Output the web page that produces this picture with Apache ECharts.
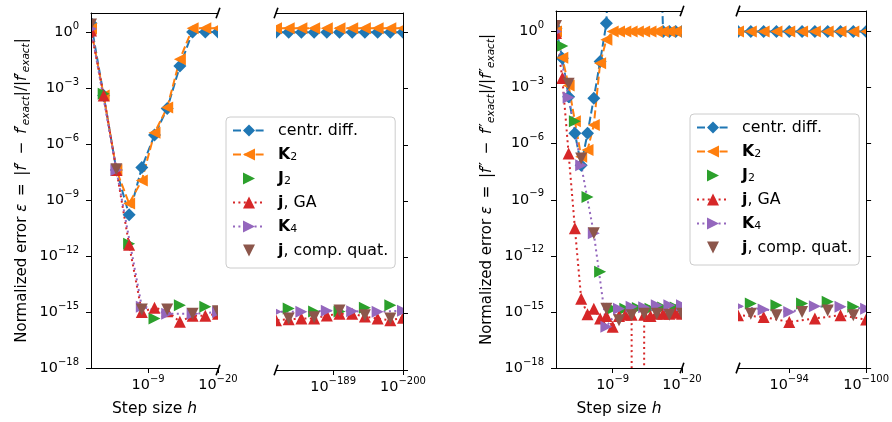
<!DOCTYPE html>
<html>
<head>
<meta charset="utf-8">
<script src="https://cdn.jsdelivr.net/npm/echarts@6.0.0/dist/echarts.min.js"></script>
<style>
  html, body { margin: 0; padding: 0; background: #fff; }
  #chart { width: 892px; height: 422px; }
</style>
</head>
<body>
<div id="chart"></div>
<script>
// x values are log10 of the step size h, y values are the normalized errors
// (an error of 0 falls off the bottom of the log axis, like matplotlib's clip)

// first derivative panel
const firstCentrDiff = [
  [0, 3], [-2, 4e-4], [-4, 4e-8], [-6, 1.6e-10], [-8, 5.5e-8], [-10, 3e-6],
  [-12, 8e-5], [-14, 1.5e-2], [-16, 1], [-18, 1], [-20, 1],
  [-180, 1], [-182, 1], [-184, 1], [-186, 1], [-188, 1], [-190, 1],
  [-192, 1], [-194, 1], [-196, 1], [-198, 1], [-200, 1],
];
const firstK2 = [
  [0, 1.5], [-2, 4e-4], [-4, 4e-8], [-6, 6.5e-10], [-8, 1.1e-8], [-10, 4e-6],
  [-12, 9e-5], [-14, 3.5e-2], [-16, 1.6], [-18, 1.6], [-20, 1.6],
  [-180, 1.6], [-182, 1.6], [-184, 1.6], [-186, 1.6], [-188, 1.6], [-190, 1.6],
  [-192, 1.6], [-194, 1.6], [-196, 1.6], [-198, 1.6], [-200, 1.6],
];
const firstJ2 = [
  [-2, 5e-4], [-6, 4.5e-12], [-10, 4.5e-16], [-14, 2.3e-15], [-18, 1.9e-15],
  [-182, 1.9e-15], [-186, 1.3e-15], [-190, 1.3e-15], [-194, 2.1e-15], [-198, 2.8e-15],
];
const firstGA = [
  [0, 1.2], [-2, 4e-4], [-4, 4e-8], [-6, 4e-12], [-8, 1e-15], [-10, 1.7e-15],
  [-12, 1.1e-15], [-14, 3e-16], [-16, 6.3e-16], [-18, 6.3e-16], [-20, 8e-16],
  [-180, 4.5e-16], [-182, 5e-16], [-184, 5.5e-16], [-186, 5.5e-16], [-188, 8e-16], [-190, 1e-15],
  [-192, 1e-15], [-194, 7e-16], [-196, 5.5e-16], [-198, 4.5e-16], [-200, 6e-16],
];
const firstK4 = [
  [0, 1.5], [-4, 4e-8], [-8, 1.9e-15], [-12, 8e-16], [-16, 8e-16], [-20, 1e-15],
  [-180, 1.25e-15], [-184, 1.25e-15], [-188, 1.45e-15], [-192, 1.35e-15], [-196, 1.25e-15], [-200, 1.45e-15],
];
const firstQuat = [
  [0, 2.5], [-4, 4.5e-8], [-8, 1.35e-15], [-12, 1.35e-15], [-16, 8e-16], [-20, 1.1e-15],
  [-182, 5.5e-16], [-186, 6.5e-16], [-190, 1.5e-15], [-194, 8.3e-16], [-198, 5.5e-16],
];

// second derivative panel
const secondCentrDiff = [
  [0, 1.5], [-1, 3.7e-2], [-2, 3.3e-4], [-3, 3.6e-6], [-4, 7e-8], [-5, 3.6e-6], [-6, 2.7e-4],
  [-7, 2.5e-2], [-8, 2.8], [-9, 1e10], [-10, 1e10], [-11, 1e10], [-12, 1e10], [-13, 1e10],
  [-14, 1e10], [-15, 1e10], [-16, 1e10], [-17, 1], [-18, 1], [-19, 1], [-20, 1],
  [-90, 1], [-91, 1], [-92, 1], [-93, 1], [-94, 1], [-95, 1],
  [-96, 1], [-97, 1], [-98, 1], [-99, 1], [-100, 1],
];
const secondK2 = [
  [0, 1], [-1, 4e-2], [-2, 1.3e-3], [-3, 1.6e-5], [-4, 2e-7], [-5, 4.6e-7], [-6, 1e-5],
  [-7, 2e-2], [-8, 0.37], [-9, 1], [-10, 1], [-11, 1], [-12, 1], [-13, 1],
  [-14, 1], [-15, 1], [-16, 1], [-17, 1], [-18, 1], [-19, 1], [-20, 1],
  [-90, 1], [-91, 1], [-92, 1], [-93, 1], [-94, 1], [-95, 1],
  [-96, 1], [-97, 1], [-98, 1], [-99, 1], [-100, 1],
];
const secondJ2 = [
  [-1, 0.17], [-3, 1.6e-5], [-5, 1.4e-9], [-7, 1.4e-13], [-9, 1.5e-15], [-11, 1.5e-15],
  [-13, 1.6e-15], [-15, 1.5e-15], [-17, 1.7e-15], [-19, 1.7e-15],
  [-91, 2.8e-15], [-93, 2.3e-15], [-95, 2.8e-15], [-97, 3.5e-15], [-99, 1.9e-15],
];
const secondGA = [
  [0, 0.85], [-1, 3.3e-3], [-2, 3e-7], [-3, 3e-11], [-4, 5e-15], [-5, 7.6e-16], [-6, 1.5e-15],
  [-7, 4.5e-16], [-8, 6e-16], [-9, 1.6e-16], [-10, 6e-16], [-11, 7e-16], [-12, 7e-16],
  [-13, 0], [-14, 7e-16], [-15, 6e-16], [-16, 8e-16], [-17, 8e-16], [-18, 8e-16],
  [-19, 9e-16], [-20, 8e-16],
  [-90, 6.6e-16], [-92, 5.4e-16], [-94, 2.9e-16], [-96, 4.5e-16], [-98, 6.6e-16], [-100, 3.9e-16],
];
const secondK4 = [
  [0, 1], [-2, 3e-4], [-4, 7e-8], [-6, 1.6e-11], [-8, 1.6e-16], [-10, 1.5e-15],
  [-12, 1.9e-15], [-14, 1.8e-15], [-16, 2.3e-15], [-18, 2.3e-15], [-20, 2.3e-15],
  [-90, 2e-15], [-92, 1.35e-15], [-94, 1e-15], [-96, 2e-15], [-98, 1.9e-15], [-100, 1.5e-15],
];
const secondQuat = [
  [0, 2], [-2, 1.6e-3], [-4, 1.6e-7], [-6, 1.6e-11], [-8, 1.5e-15], [-10, 3.6e-16],
  [-12, 6.6e-16], [-14, 8e-16], [-16, 8e-16], [-18, 7e-16], [-20, 8e-16],
  [-91, 8e-16], [-93, 6.6e-16], [-95, 1e-15], [-97, 1.2e-15], [-99, 6.6e-16],
];

const yTicks = [-18, -15, -12, -9, -6, -3, 0];

const FONT = "DejaVu Sans";
const W = 892;
const H = 422;

const methods = [
  { name: "centr. diff.", color: "#1f77b4", symbol: "diamond", size: 13, dash: [8, 3.3] },
  { name: "K2", color: "#ff7f0e", symbol: "path://M2,0L0,1L2,2Z", size: 12, dash: [8, 3.3] },
  { name: "J2", color: "#2ca02c", symbol: "path://M0,0L2,1L0,2Z", size: 12, dash: null },
  { name: "j, GA", color: "#d62728", symbol: "path://M1,0L2,2L0,2Z", size: 12, dash: [2, 3.4] },
  { name: "K4", color: "#9467bd", symbol: "path://M0,0L2,1L0,2Z", size: 12, dash: [2, 3.4] },
  { name: "j, comp. quat.", color: "#8c564b", symbol: "path://M0,0L2,0L1,2Z", size: 12, dash: null },
];

const legendLabels = {
  "centr. diff.": "centr. diff.",
  K2: "{bf|K}{sub|2}",
  J2: "{bf|J}{sub|2}",
  "j, GA": "{bf|j}, GA",
  K4: "{bf|K}{sub|4}",
  "j, comp. quat.": "{bf|j}, comp. quat.",
};

const panels = [
  {
    grids: [
      { left: 91, top: 13, width: 127, height: 357 },
      { left: 276, top: 13, width: 127, height: 357 },
    ],
    xRanges: [[-20, 0], [-200, -180]],
    xTicks: [[-9, -20], [-189, -200]],
    yMax: 1.02,
    prime: "\u2032",
    legend: { left: 226, top: 117 },
    data: [firstCentrDiff, firstK2, firstJ2, firstGA, firstK4, firstQuat],
  },
  {
    grids: [
      { left: 556, top: 11, width: 126, height: 357 },
      { left: 738, top: 11, width: 129, height: 357 },
    ],
    xRanges: [[-20, 0], [-100, -90]],
    xTicks: [[-9, -20], [-94, -100]],
    yMax: 1.1,
    prime: "\u2033",
    legend: { left: 690, top: 114 },
    data: [secondCentrDiff, secondK2, secondJ2, secondGA, secondK4, secondQuat],
  },
];

const labelRich = {
  b: { fontSize: 14.4, lineHeight: 22, fontFamily: FONT, color: "#000" },
  s: { fontSize: 10, lineHeight: 10, verticalAlign: "top", fontFamily: FONT, color: "#000" },
};

const powerLabel = (v) => "{b|10}{s|" + (v < 0 ? "\u2212" + -v : v) + "}";

const axisLine = { onZero: false, lineStyle: { color: "#000", width: 1 } };

const grid = [];
const xAxis = [];
const yAxis = [];
const series = [];
const legend = [];
const masks = [];
const breakMarks = [];

// white masks outside the axes so markers get cut at the spines like in matplotlib
// (series sit at z 2, masks at z 4, axes at z 5, legends at z 6)
const mask = (x, y, w, h) =>
  masks.push({
    type: "rect",
    z: 4,
    shape: { x, y, width: w, height: h },
    style: { fill: "#fff" },
    silent: true,
  });

const allGrids = panels.flatMap((p) => p.grids);
let prevRight = 0;
allGrids.forEach((g) => {
  mask(prevRight, 0, g.left - prevRight, H);
  mask(g.left, 0, g.width, g.top);
  mask(g.left, g.top + g.height, g.width, H - g.top - g.height);
  prevRight = g.left + g.width;
});
mask(prevRight, 0, W - prevRight, H);

panels.forEach((panel) => {
  panel.grids.forEach((g, k) => {
    const gi = grid.length;
    grid.push({ left: g.left, top: g.top, width: g.width, height: g.height });

    // bottom axis with ticks and labels
    xAxis.push({
      type: "value",
      gridIndex: gi,
      position: "bottom",
      z: 5,
      min: panel.xRanges[k][0],
      max: panel.xRanges[k][1],
      inverse: true,
      axisLine,
      axisTick: { customValues: panel.xTicks[k], length: 5, lineStyle: { color: "#000", width: 1 } },
      axisLabel: { customValues: panel.xTicks[k], formatter: powerLabel, margin: 6, rich: labelRich },
      splitLine: { show: false },
      name: k === 0 ? "Step size {i|h}" : "",
      nameLocation: "middle",
      nameGap: 33,
      nameTextStyle: {
        fontFamily: FONT,
        fontSize: 15.5,
        color: "#000",
        rich: { i: { fontFamily: FONT, fontSize: 15.5, fontStyle: "italic", color: "#000" } },
      },
    });
    // top spine
    xAxis.push({
      type: "value",
      gridIndex: gi,
      position: "top",
      z: 5,
      min: panel.xRanges[k][0],
      max: panel.xRanges[k][1],
      inverse: true,
      axisLine,
      axisTick: { show: false },
      axisLabel: { show: false },
      splitLine: { show: false },
    });

    const p = panel.prime;
    yAxis.push({
      type: "value",
      gridIndex: gi,
      position: k === 0 ? "left" : "right",
      z: 5,
      min: -18,
      max: panel.yMax,
      axisLine,
      axisTick: { customValues: yTicks, length: 5, lineStyle: { color: "#000", width: 1 } },
      axisLabel: { show: k === 0, customValues: yTicks, formatter: powerLabel, margin: 12, rich: labelRich },
      splitLine: { show: false },
      name:
        k === 0
          ? "Normalized error {i|\u03b5} \u2009=\u2009 |{i|f}" + p + " \u2009\u2212\u2009 {i|f}" + p +
            "{sub|exact}|/|{i|f}" + p + "{sub|exact}|"
          : "",
      nameLocation: "middle",
      nameGap: 59,
      nameTextStyle: {
        fontFamily: FONT,
        fontSize: 15,
        lineHeight: 19,
        color: "#000",
        rich: {
          i: { fontFamily: FONT, fontSize: 15, lineHeight: 19, fontStyle: "italic", color: "#000" },
          sub: { fontFamily: FONT, fontSize: 10.5, lineHeight: 10, fontStyle: "italic", verticalAlign: "bottom", color: "#000" },
        },
      },
    });

    methods.forEach((m, mi) => {
      series.push({
        name: m.name,
        type: "line",
        z: 2,
        xAxisIndex: 2 * gi,
        yAxisIndex: gi,
        data: panel.data[mi].map(([lh, err]) => [lh, err > 0 ? Math.log10(err) : -300]),
        symbol: m.symbol,
        symbolSize: m.size,
        showSymbol: true,
        showAllSymbol: true,
        itemStyle: { color: m.color },
        lineStyle: { color: m.color, width: m.dash ? 2 : 0, type: m.dash || "solid" },
        emphasis: { disabled: true },
        clip: true,
        animation: false,
      });
    });

    // broken axis marks, d = 0.015 of the axes size
    const x = k === 0 ? g.left + g.width : g.left;
    const dx = 0.015 * g.width;
    const dy = 0.015 * g.height;
    [g.top, g.top + g.height].forEach((y) => {
      breakMarks.push({
        type: "line",
        z: 7,
        shape: { x1: x - dx, y1: y + dy, x2: x + dx, y2: y - dy },
        style: { stroke: "#000", lineWidth: 1.6 },
      });
    });
  });

  legend.push({
    orient: "vertical",
    left: panel.legend.left,
    top: panel.legend.top,
    z: 6,
    data: methods.map((m) => m.name),
    selectedMode: false,
    itemWidth: 32,
    itemHeight: 15,
    itemGap: 7,
    padding: [5, 7, 9, 6],
    backgroundColor: "rgba(255,255,255,0.85)",
    borderColor: "#cccccc",
    borderWidth: 1,
    borderRadius: 4,
    formatter: (name) => "{sp|\u00a0}" + legendLabels[name],
    textStyle: {
      fontFamily: FONT,
      fontSize: 15.8,
      lineHeight: 17,
      color: "#000",
      rich: {
        sp: { width: 8, fontSize: 15.8, lineHeight: 17 },
        bf: { fontFamily: FONT, fontSize: 15.8, lineHeight: 17, fontWeight: "bold", color: "#000" },
        sub: { fontFamily: FONT, fontSize: 11, lineHeight: 11, verticalAlign: "bottom", color: "#000" },
      },
    },
  });
});

const chart = echarts.init(document.getElementById("chart"));
chart.setOption({
  animation: false,
  backgroundColor: "#fff",
  grid,
  xAxis,
  yAxis,
  series,
  legend,
  graphic: { z: 4, elements: masks.concat(breakMarks) },
});
</script>
</body>
</html>
